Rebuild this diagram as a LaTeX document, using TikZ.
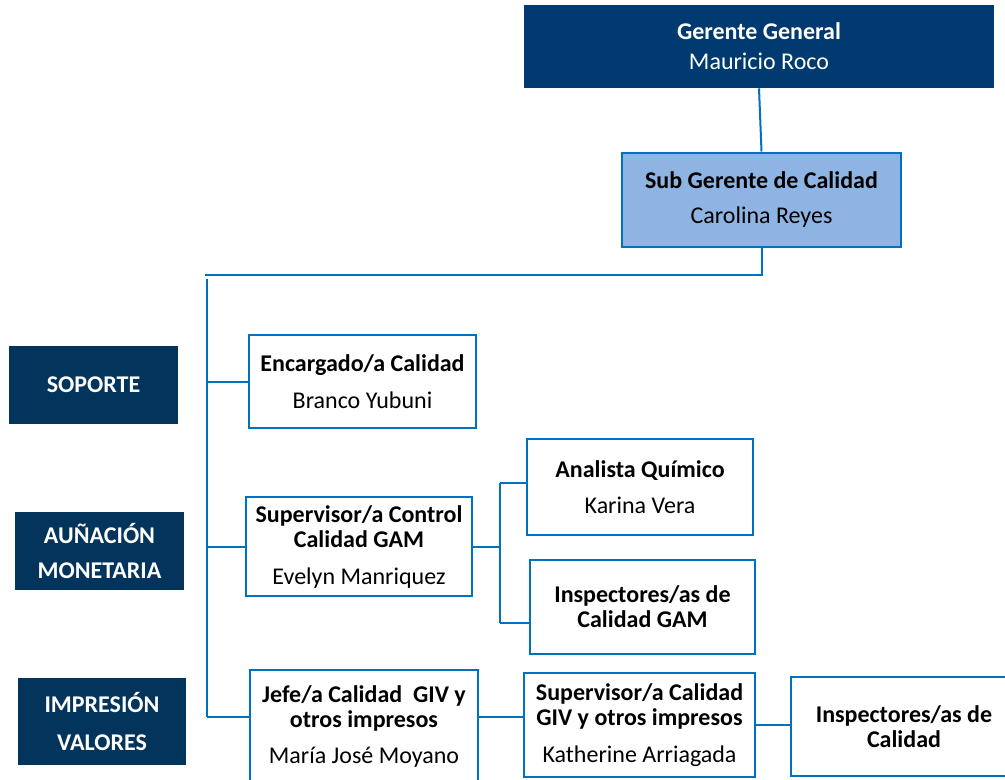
\documentclass[tikz,border=0pt]{standalone}
\usepackage{fontspec}
\setmainfont{Carlito}
\usepackage{xcolor}
\usepackage{tikz}
\usetikzlibrary{positioning,calc}

\definecolor{navy}{RGB}{0,58,112}
\definecolor{navydark}{RGB}{3,52,92}
\definecolor{lineblue}{RGB}{0,112,192}
\definecolor{subfill}{RGB}{142,180,227}

\tikzset{
    boxsize/.style 2 args={minimum width=#1*0.75pt, minimum height=#2*0.75pt},
    orgbox/.style={draw=lineblue, line width=1.5pt, fill=white, align=center,
        inner sep=0pt, font=\fontsize{18}{18.75}\selectfont},
    subbox/.style={orgbox, fill=subfill},
    topbox/.style={fill=navy, text=white, align=center, inner sep=0pt,
        font=\fontsize{18}{18.75}\selectfont},
    areabox/.style={fill=navydark, text=white, align=center, inner sep=0pt,
        font=\fontsize{18}{18.75}\selectfont\bfseries},
    link/.style={lineblue, line width=1.5pt},
}

\begin{document}
\begin{tikzpicture}[x=0.75pt, y=-0.75pt]
    \useasboundingbox (0,0) rectangle (1005,779);
    \clip (0,0) rectangle (1005,779);

    % Management
    \node[topbox, boxsize={470}{83}] (gg) at (759,46.5)
        {\textbf{Gerente General}\\[3.75pt]Mauricio Roco};
    \node[subbox, boxsize={279}{94}] (sub) at (761.5,199.5)
        {\textbf{Sub Gerente de Calidad}\\[7.5pt]Carolina Reyes};

    % Areas
    \node[areabox, boxsize={169}{78}] (soporte) at (93.5,385) {SOPORTE};
    \node[areabox, boxsize={169}{78}] (aun) at (99.5,551) {AUÑACIÓN\\[7.5pt]MONETARIA};
    \node[areabox, boxsize={168}{87}] (imp) at (102,721.5) {IMPRESIÓN\\[9.75pt]VALORES};

    % First level
    \node[orgbox, boxsize={227}{93}] (enc) at (362.5,381.5)
        {\textbf{Encargado/a Calidad}\\[9pt]Branco Yubuni};
    \node[orgbox, boxsize={226}{99}] (supc) at (359,546.5)
        {\textbf{Supervisor/a Control}\\\textbf{Calidad GAM}\\[9pt]Evelyn Manriquez};
    \node[orgbox, boxsize={228}{112}] (jefe) at (364,726)
        {\textbf{Jefe/a Calidad\ \ GIV y}\\\textbf{otros impresos}\\[8.25pt]María José Moyano};

    % GAM
    \node[orgbox, boxsize={226}{96}] (ana) at (640,487)
        {\textbf{Analista Químico}\\[8.25pt]Karina Vera};
    \node[orgbox, boxsize={225}{94}] (insg) at (642.5,607)
        {\textbf{Inspectores/as de}\\\textbf{Calidad GAM}};

    % GIV
    \node[orgbox, boxsize={231}{104}] (supg) at (639.5,725)
        {\textbf{Supervisor/a Calidad}\\\textbf{GIV y otros impresos}\\[9pt]Katherine Arriagada};
    \node[orgbox, boxsize={226}{99}] (insc) at (904,726.5)
        {\textbf{Inspectores/as de}\\\textbf{Calidad}};

    % Connectors
    \coordinate (busL) at (205,275);
    \coordinate (spineT) at (207,279);
    \coordinate (spineB) at (207,717);
    \coordinate (gamT) at (500,483);
    \coordinate (gamB) at (500,623);

    \draw[link] (gg.south) -- (sub.north);
    \draw[link] (sub.south) |- (busL);
    \draw[link] (spineT) -- (spineB);
    \draw[link] (spineT |- enc.west) -- (enc.west);
    \draw[link] (spineT |- supc.west) -- (supc.west);
    \draw[link] (spineB) -- (spineB -| jefe.west);

    \draw[link] (supc.east) -- (supc.east -| gamT);
    \draw[link] (gamT) -- (gamB);
    \draw[link] (gamT) -- (gamT -| ana.west);
    \draw[link] (gamB) -- (gamB -| insg.west);

    \draw[link] (spineB -| jefe.east) -- (spineB -| supg.west);
    \draw[link] (supg.east) -- (supg.east -| insc.west);
\end{tikzpicture}
\end{document}
